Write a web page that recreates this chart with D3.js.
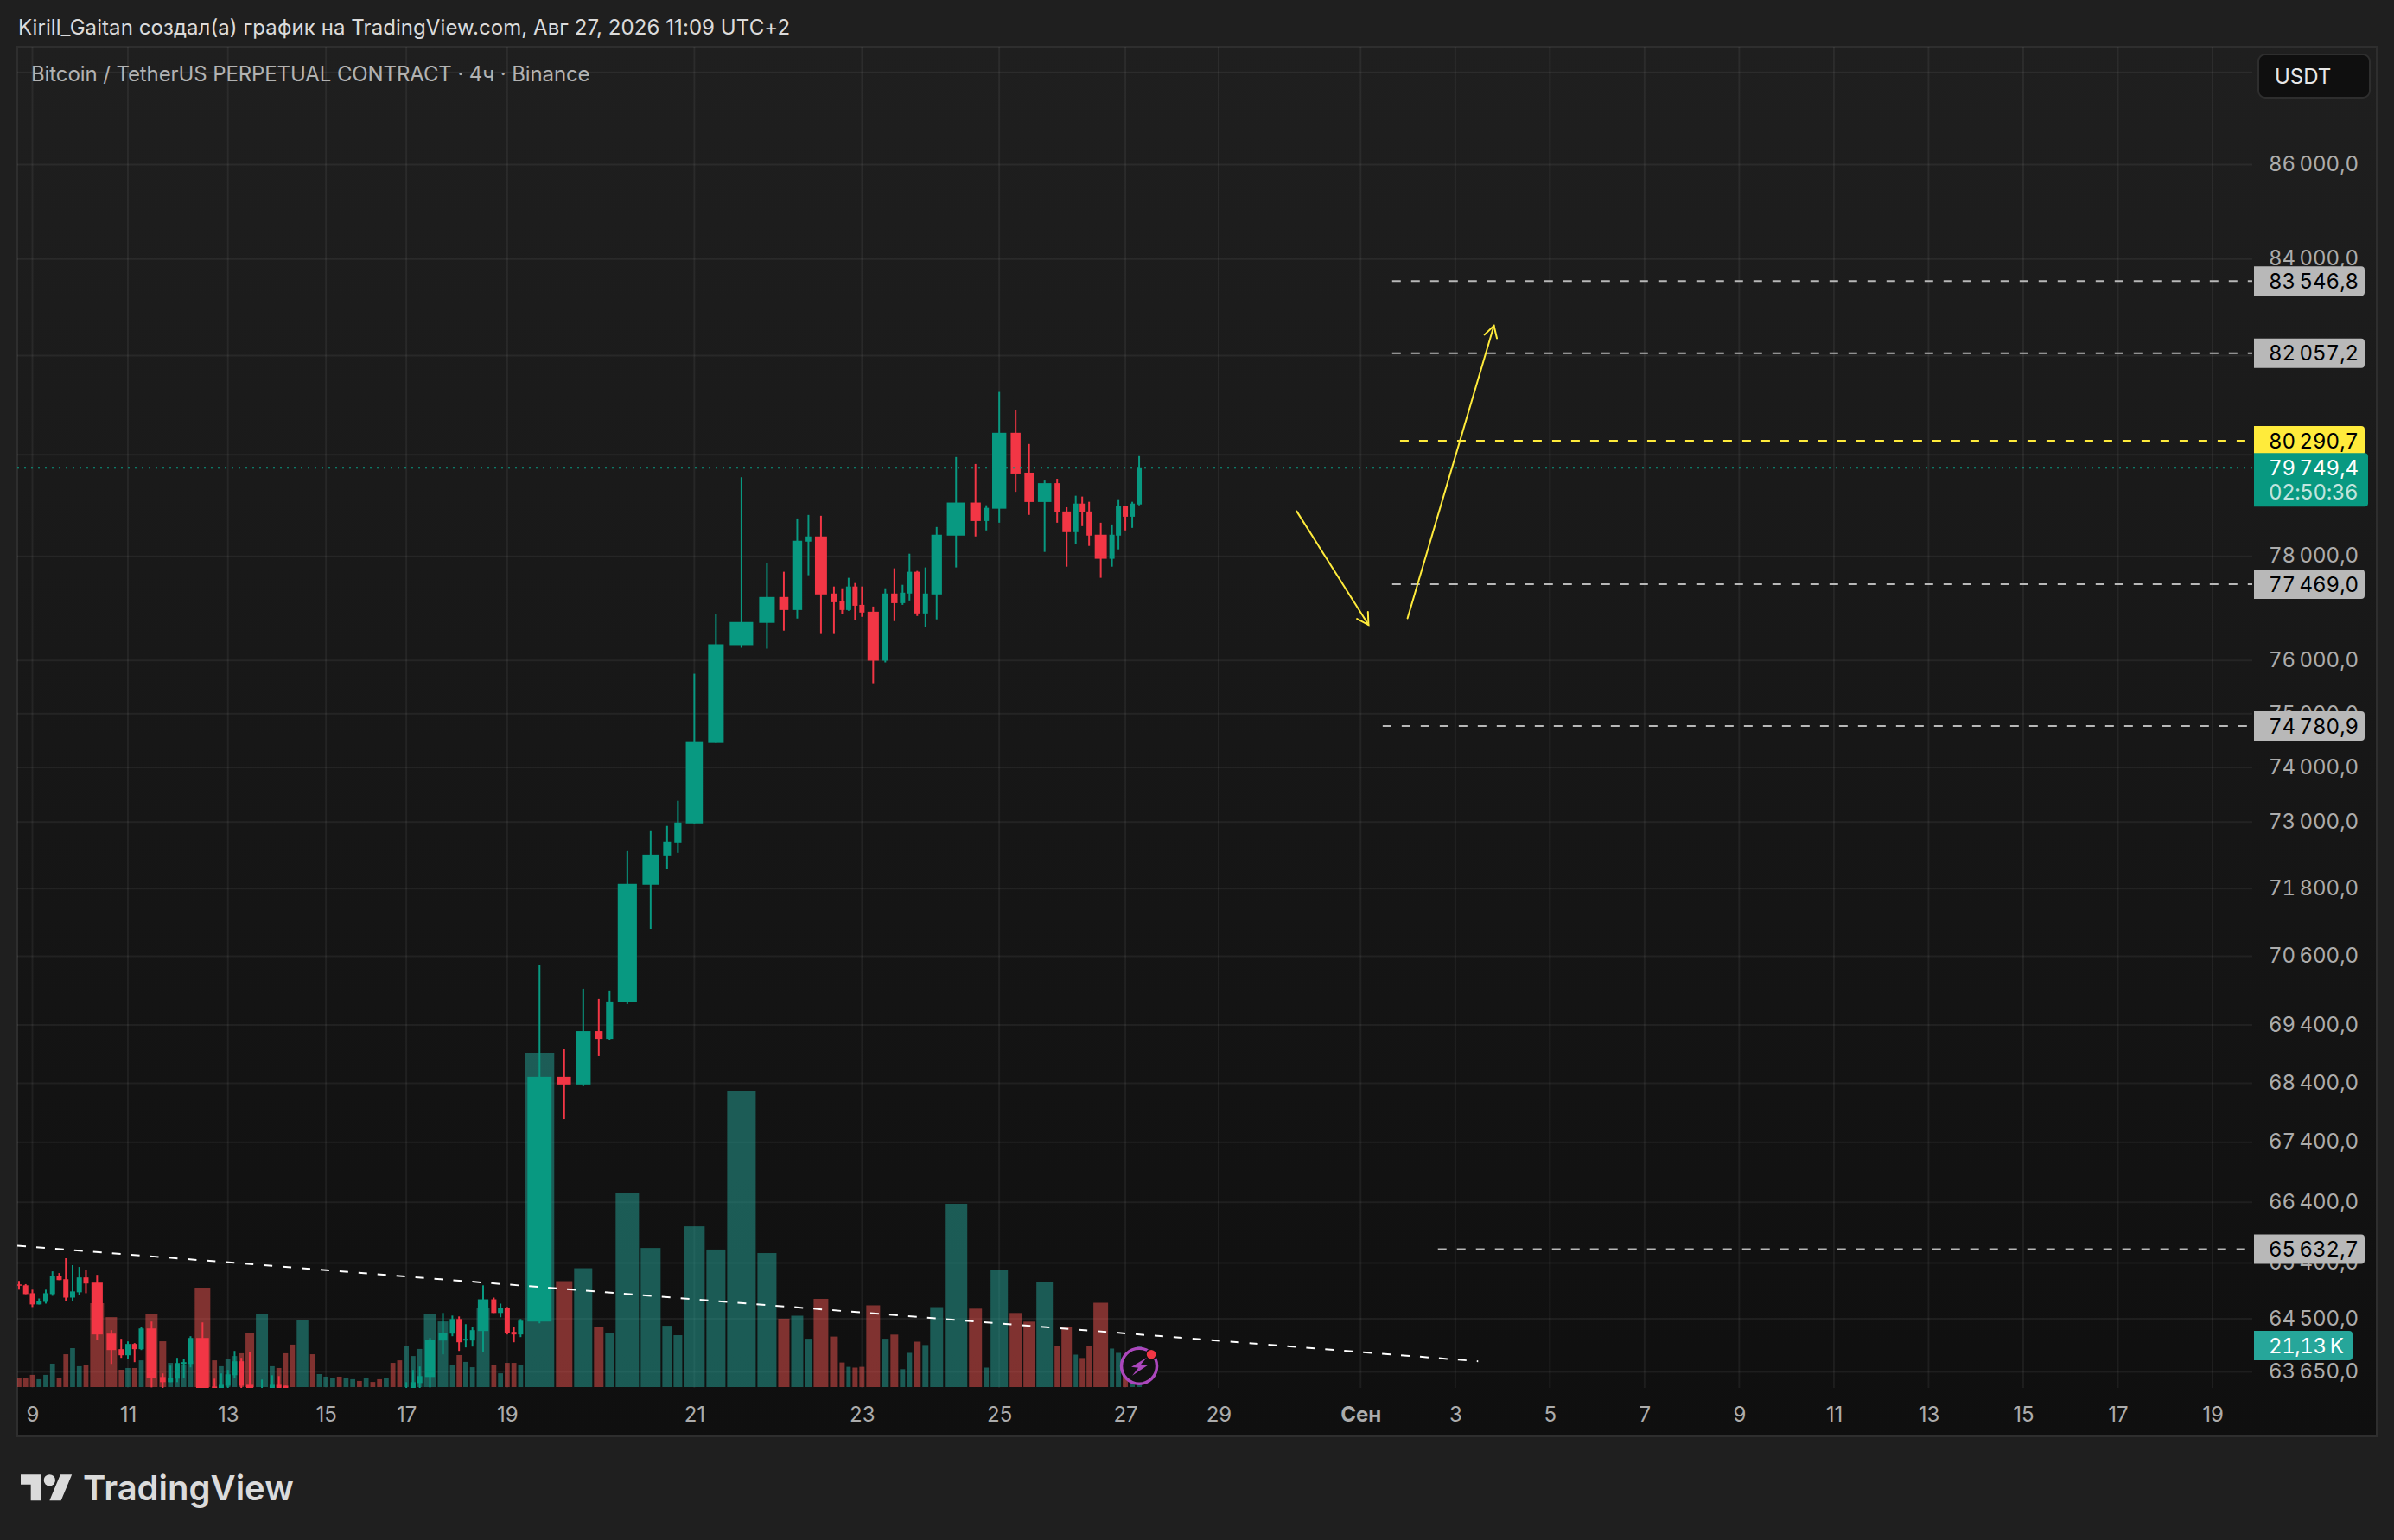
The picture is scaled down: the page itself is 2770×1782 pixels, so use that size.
<!DOCTYPE html>
<html lang="ru">
<head>
<meta charset="utf-8">
<title>BTCUSDT</title>
<script src="https://cdn.jsdelivr.net/npm/d3@7/dist/d3.min.js"></script>
<style>
html,body{margin:0;padding:0;background:#1f1f1f;}
svg{display:block;}
text{font-family:Inter,"Noto Sans",sans-serif;}
.num{font-variant-numeric:tabular-nums;letter-spacing:-0.4px;}
</style>
</head>
<body>
<svg id="c" width="2770" height="1782"></svg>
<script>
// ---------- data ----------
const opens = [65053,65039,64911,64730,64771,64897,65195,65138,64840,64926,
65167,65082,64260,64012,63915,64095,64012,64343,63570,63488,
63543,63777,63777,64191,63419,63300,63432,63598,63819,63446,
63377,63320,63446,63432,63290,63080,63270,63130,63180,63210,
63230,63190,63220,63240,63225,63255,63240,63215,63250,63160,
63377,63330,63474,63570,64150,64260,64495,64150,64150,64302,
64812,64592,64674,64288,64247,64454,68511,68379,69295,69160,
69792,71869,72396,72631,72977,74455,76293,76717,77213,76963,
78286,78387,77280,77129,76963,77415,77062,76930,75997,77280,
77095,77280,77700,76897,77263,78404,79052,78689,78931,80439,
79643,79063,79435,78877,78471,79032,78877,78421,77952,78404,
78980,78774,79015];
const closes = [65034,64897,64730,64785,64911,65195,65124,64840,64940,65167,
65068,64247,63998,63915,64095,64012,64343,63557,63488,63557,
63791,63805,64191,63391,63391,63446,63612,63819,63432,63300,
63391,63446,63300,63300,63080,63270,63130,63180,63210,63230,
63190,63220,63240,63225,63255,63240,63215,63250,63160,63080,
63391,63488,63584,64164,64274,64495,64122,64178,64316,64812,
64592,64674,64274,64247,64467,68511,68379,69295,69160,69807,
71884,72411,72647,72992,74471,76309,76733,77213,76963,78303,
78387,77263,77112,76963,77415,77045,76914,75997,77280,77095,
77297,77700,76897,77280,78421,79052,78689,78948,80439,79626,
79063,79435,78860,78471,79032,78860,78404,77952,78421,78980,
78774,79032,79749.4];
const highs = [65110,65058,64968,64826,64968,65266,65238,65479,65366,65337,
65295,65209,64316,64178,64136,64109,64371,64454,63626,63750,
63874,63860,64219,64440,63543,63626,63681,63984,63874,63971,
63529,63598,63584,63432,63340,63360,63310,63210,63240,63260,
63250,63240,63260,63260,63270,63275,63265,63260,63290,63200,
63488,63681,63736,64191,64592,64550,64536,64412,64371,65039,
64840,64743,64688,64371,64495,70439,68983,70033,69852,69988,
72474,72835,72930,73387,75751,76881,79553,77868,77700,78740,
78809,78792,77415,77381,77583,77482,77415,77029,77381,77767,
77448,78051,77717,77784,78572,79955,79816,78999,81262,80894,
80214,79487,79522,78960,79187,79170,79067,78656,78622,79118,
78980,79067,79973];
const lows = [64968,64897,64688,64730,64743,64869,65124,64785,64785,64883,
64911,64164,63777,63874,63860,63805,63998,63405,63300,63488,
63488,63557,63722,63370,63370,63280,63300,63557,63370,63250,
63377,63280,63250,63300,63020,63010,63090,63100,63150,63180,
63170,63170,63200,63210,63210,63235,63205,63200,63130,63040,
63377,63300,63377,63405,63929,64219,63984,64040,64053,63971,
64592,64523,64247,64122,64205,64426,67789,68349,68865,69145,
69762,71080,72146,72443,72977,74455,76243,76226,76569,76799,
77633,76504,76504,76881,76947,76766,76832,75571,75964,76750,
77062,77146,76848,76635,76783,77784,78387,78505,78656,79263,
78810,78085,78656,77799,78236,78589,78202,77583,77799,78135,
78505,78555,78998];
const volumesK = [4.8,4.4,6.2,4.0,6.2,11.9,4.8,16.7,19.8,10.6,
11.0,42.7,35.6,8.8,9.7,9.7,13.6,37.4,23.3,12.3,
11.0,11.0,13.2,50.6,13.6,10.6,14.1,15.8,17.2,27.3,
37.4,10.6,9.7,17.2,21.6,33.9,16.7,6.6,5.3,4.8,
5.3,4.8,4.0,3.1,4.4,2.6,4.0,4.4,12.3,13.6,
21.1,15.8,19.4,37.4,33.4,11.0,16.3,12.8,10.1,40.5,
11.0,7.0,12.3,12.3,11.4,170.3,53.9,60.5,30.8,27.3,
99.0,70.8,31.2,26.4,81.8,70.0,150.7,68.2,34.8,36.3,
24.6,44.9,25.7,12.5,10.3,9.9,10.3,41.6,24.6,26.7,
9.1,17.4,23.1,21.4,40.7,93.3,39.9,9.9,59.7,37.7,
33.3,53.6,20.9,30.6,16.5,14.8,20.9,42.9,19.6,17.4,
11.0,5.3,21.13];
// relative span of each bar on the stretched time axis (1 = a regular bar)
const barSpans = [1,1,1,1,1,1,1,1,1,1,
1,2.32,1.94,1,1,1,1,2.06,1.29,1,
1,1,1,2.58,1,1,1,1,1,1.55,
2.06,1,1,1,1.03,2.0,1,1,1,1,
1,1,1,1,1,1,1,1,1,1,
1,1,1,2.06,1.81,1,1,1,1,2.19,
1,1,1,1,1,4.65,2.71,2.97,1.68,1.55,
3.74,3.23,1.68,1.55,3.35,3.10,4.52,3.10,1.94,2.06,
1.29,2.45,1.42,1.03,0.90,1.03,1.03,2.32,1.29,1.42,
1.03,1.03,1.29,1.16,2.19,3.61,2.19,1.03,2.84,2.06,
1.94,2.71,1.03,1.81,0.90,1.03,1.03,2.45,0.90,1.03,
1.03,1.03,1.03];

const priceTicks = [86000,84000,82000,80000,78000,76000,75000,74000,73000,71800,70600,69400,68400,67400,66400,65400,64500,63650];
const priceGridOnly = [88000];
const dateTickBars = [2,14,26,38,50,62,74,86,98,110,122,140,152,164,176,188,200,212,224,236,248];
const dateTickLabels = ["9","11","13","15","17","19","21","23","25","27","29","Сен","3","5","7","9","11","13","15","17","19"];

const levelPrices = [83546.8,82057.2,77469.0,74780.9,65632.7];
const levelStartBars = [144,144,144,142.8,149.8];
const targetPrice = 80290.7, targetStartBar = 145;
const lastPrice = 79749.4, countdown = "02:50:36", lastVolumeK = 21.13;
const trendBars = [-0.25,154.9], trendPrices = [65684,63819];
const arrowDownBars = [131.9,141.0], arrowDownPrices = [78881,76679];
const arrowUpBars = [145.95,156.9], arrowUpPrices = [76804,82613];

const headerText = "Kirill_Gaitan создал(а) график на TradingView.com, Авг 27, 2026 11:09 UTC+2";
const titleText = "Bitcoin / TetherUS PERPETUAL CONTRACT · 4ч · Binance";

// ---------- palette ----------
const GREEN="#089981", RED="#F23645", VOL_UP="#26a69a", VOL_DOWN="#ef5350", YELLOW="#FFEB3B", TAG="#b8b8b8", AXIS="#acacac";

// ---------- scales ----------
const pane={l:20,r:2750,t:54,b:1662}, plot={r:2606,b:1606,volBase:1605};
const y = d3.scaleLog().domain([86000,63650]).range([190.5,1587.5]);
const yVol = d3.scaleLinear().domain([0,170.3]).range([plot.volBase,1218]);
const spanX = d3.scaleLinear().domain([0,1]).range([18.1,25.85]);   // cumulative span -> px
const cum = d3.cumsum(barSpans);
const starts = barSpans.map((s,i)=>cum[i]-s);
const centers = barSpans.map((s,i)=>spanX(starts[i]+s/2));
const barW = barSpans.map((s,i)=>spanX(cum[i])-spanX(starts[i])-2);
const bars = d3.range(opens.length);
// bar index -> px, following the stretched bars and then the regular future axis
const x = d3.scaleLinear().domain([...bars,122,248]).range([...centers,1410,2560]);

const fmt = d3.formatLocale({decimal:",",thousands:"\u202f",grouping:[3],currency:["",""]});
const fmtPrice = fmt.format(",.1f"), fmtVol = fmt.format(".2f");
const levelY = p => y(p)+0.5;

const svg = d3.select("#c");
const defs = svg.append("defs");
const grad = defs.append("linearGradient").attr("id","bg").attr("x1",0).attr("x2",0).attr("y1",0).attr("y2",1);
grad.append("stop").attr("offset",0).attr("stop-color","#1f1f1f");
grad.append("stop").attr("offset",1).attr("stop-color","#0f0f0f");
defs.append("clipPath").attr("id","plotClip").append("rect")
  .attr("x",pane.l).attr("y",pane.t).attr("width",plot.r-pane.l).attr("height",plot.b-pane.t);

svg.append("rect").attr("width",2770).attr("height",1782).attr("fill","#1f1f1f");
svg.append("rect").attr("x",pane.l).attr("y",pane.t).attr("width",pane.r-pane.l).attr("height",pane.b-pane.t)
  .attr("fill","url(#bg)").attr("stroke","#2e2e2e").attr("stroke-width",2);

// grid
const grid = svg.append("g").attr("stroke","#ffffff").attr("stroke-opacity",0.06).attr("stroke-width",2);
grid.selectAll("line.h").data([...priceGridOnly,...priceTicks]).join("line").attr("class","h")
  .attr("x1",pane.l).attr("x2",plot.r).attr("y1",d=>y(d)).attr("y2",d=>y(d));
grid.selectAll("line.v").data(dateTickBars).join("line").attr("class","v")
  .attr("y1",pane.t).attr("y2",plot.b).attr("x1",d=>x(d)).attr("x2",d=>x(d));

// price axis labels
const axisR = d3.axisRight(y).tickValues(priceTicks).tickFormat(fmtPrice).tickSize(0).tickPadding(0);
const gR = svg.append("g").attr("transform",`translate(2625,0)`).call(axisR);
gR.select(".domain").remove();
gR.selectAll("text").attr("class","num").attr("fill",AXIS).style("font-size","24px").style("font-family","Inter").attr("dy","0.3em");

// date axis labels
const axisB = d3.axisBottom(x).tickValues(dateTickBars).tickFormat((d,i)=>dateTickLabels[i]).tickSize(0).tickPadding(0);
const gB = svg.append("g").attr("transform",`translate(0,1636)`).call(axisB);
gB.select(".domain").remove();
gB.selectAll("text").attr("y",0).attr("dy","0.36em").attr("fill",AXIS)
  .style("font-size","24px").style("font-family","Inter")
  .style("font-weight",(d,i)=>dateTickLabels[i]==="Сен"?"700":"400");

// plot content
const plotG = svg.append("g").attr("clip-path","url(#plotClip)");
const isUp = i => closes[i]>=opens[i];
plotG.append("g").selectAll("rect").data(bars).join("rect")
  .attr("x",i=>centers[i]-barW[i]/2).attr("width",i=>barW[i])
  .attr("y",i=>yVol(volumesK[i])).attr("height",i=>plot.volBase-yVol(volumesK[i]))
  .attr("fill",i=>isUp(i)?VOL_UP:VOL_DOWN).attr("fill-opacity",0.5);

plotG.append("g").selectAll("line").data(bars).join("line")
  .attr("x1",i=>centers[i]).attr("x2",i=>centers[i])
  .attr("y1",i=>y(highs[i])).attr("y2",i=>y(lows[i]))
  .attr("stroke",i=>isUp(i)?GREEN:RED).attr("stroke-width",2);
const bodyW = i => Math.max(6,barW[i]*0.82);
plotG.append("g").selectAll("rect").data(bars).join("rect")
  .attr("x",i=>centers[i]-bodyW(i)/2).attr("width",bodyW)
  .attr("y",i=>Math.min(y(opens[i]),y(closes[i])))
  .attr("height",i=>Math.max(1.5,Math.abs(y(opens[i])-y(closes[i]))))
  .attr("fill",i=>isUp(i)?GREEN:RED);

// last price dotted line
plotG.append("line").attr("x1",pane.l).attr("x2",plot.r).attr("y1",levelY(lastPrice)).attr("y2",levelY(lastPrice))
  .attr("stroke",GREEN).attr("stroke-width",2).attr("stroke-dasharray","2,6");

// trend line
plotG.append("line").attr("x1",x(trendBars[0])).attr("y1",y(trendPrices[0]))
  .attr("x2",x(trendBars[1])).attr("y2",y(trendPrices[1]))
  .attr("stroke","#ffffff").attr("stroke-width",2).attr("stroke-dasharray","10,12");

// horizontal levels
plotG.selectAll("line.level").data(levelPrices).join("line").attr("class","level")
  .attr("x1",(d,i)=>x(levelStartBars[i])).attr("x2",plot.r).attr("y1",levelY).attr("y2",levelY)
  .attr("stroke",TAG).attr("stroke-width",2).attr("stroke-dasharray","10,12");
plotG.append("line").attr("x1",x(targetStartBar)).attr("x2",plot.r).attr("y1",levelY(targetPrice)).attr("y2",levelY(targetPrice))
  .attr("stroke",YELLOW).attr("stroke-width",2).attr("stroke-dasharray","10,12");

// arrows
function arrow(bs,ps){
  const x1=x(bs[0]),y1=y(ps[0]),x2=x(bs[1]),y2=y(ps[1]);
  const a=Math.atan2(y2-y1,x2-x1), len=15, sp=Math.PI/6;
  const arm=s=>[x2-len*Math.cos(a+s),y2-len*Math.sin(a+s)];
  const g=plotG.append("g").attr("stroke",YELLOW).attr("stroke-width",2).attr("fill","none").attr("stroke-linecap","round");
  g.append("path").attr("d",d3.line()([[x1,y1],[x2,y2]]));
  g.append("path").attr("d",d3.line()([arm(sp),[x2,y2],arm(-sp)]));
}
arrow(arrowDownBars,arrowDownPrices);
arrow(arrowUpBars,arrowUpPrices);

// lightning icon
const ix=x(112), iy=1580.7;
const icon=svg.append("g").attr("transform",`translate(${ix},${iy})`);
icon.append("circle").attr("r",20.5).attr("fill","#111111").attr("stroke","#ab47bc").attr("stroke-width",3.5);
icon.append("path").attr("d","M9,-10 L-9,1 L-1,2 L-8,11 L10,-1 L2,-2 Z").attr("fill","#ab47bc");
icon.append("circle").attr("cx",14).attr("cy",-13.5).attr("r",6).attr("fill",RED).attr("stroke","#111111").attr("stroke-width",1.5);

// price tags
function tagPath(x0,x1,y0,y1,r){
  return `M${x0},${y0}H${x1-r}Q${x1},${y0} ${x1},${y0+r}V${y1-r}Q${x1},${y1} ${x1-r},${y1}H${x0}Z`;
}
const tagX=2608, tagR=2736;
function tag(price,fill,ink){
  const c=levelY(price);
  svg.append("path").attr("d",tagPath(tagX,tagR,c-17,c+17,4)).attr("fill",fill);
  svg.append("text").attr("class","num").attr("x",2625).attr("y",c).attr("dy","0.36em").attr("fill",ink)
    .style("font-size","24px").text(fmtPrice(price));
}
levelPrices.forEach(p=>tag(p,TAG,"#000000"));
tag(targetPrice,YELLOW,"#000000");
// last price tag
const lp=levelY(lastPrice);
svg.append("path").attr("d",tagPath(tagX,2740,lp-17,lp+45,4)).attr("fill",GREEN);
svg.append("text").attr("class","num").attr("x",2625).attr("y",lp).attr("dy","0.36em").attr("fill","#ffffff").style("font-size","24px").text(fmtPrice(lastPrice));
svg.append("text").attr("class","num").attr("x",2625).attr("y",lp+28).attr("dy","0.36em").attr("fill","#ffffff").attr("fill-opacity",0.75).style("font-size","24px").text(countdown);
// volume tag
const vt=yVol(lastVolumeK);
svg.append("path").attr("d",tagPath(tagX,2722,vt-17,vt+17,4)).attr("fill",VOL_UP);
svg.append("text").attr("class","num").attr("x",2625).attr("y",vt).attr("dy","0.36em").attr("fill","#ffffff").style("font-size","24px").text(fmtVol(lastVolumeK)+"\u202fK");

// USDT button
svg.append("rect").attr("x",2613).attr("y",63).attr("width",129).attr("height",50).attr("rx",8)
  .attr("fill","#0f0f0f").attr("stroke","#2e2e2e").attr("stroke-width",2);
svg.append("text").attr("x",2632).attr("y",88).attr("dy","0.36em").attr("fill","#e8e8e8").style("font-size","24px").text("USDT");

// header and title
svg.append("text").attr("x",21).attr("y",31).attr("dy","0.36em").attr("fill","#dbdbdb").style("font-size","24px").style("letter-spacing","0.07px").text(headerText);
svg.append("text").attr("x",36).attr("y",85).attr("dy","0.36em").attr("fill","#b2b2b2").style("font-size","24px").style("letter-spacing","-0.1px").text(titleText);

// logo
const logo=svg.append("g").attr("transform","translate(24,1699.5) scale(1.667)").attr("fill","#dbdbdb");
logo.append("path").attr("d","M14 22H7V11H0V4h14v18zM28 22h-8l7.5-18h8L28 22z");
logo.append("circle").attr("cx",20).attr("cy",8).attr("r",4);
svg.append("text").attr("x",96).attr("y",1736).attr("fill","#dbdbdb").style("font-size","40px").style("font-weight","600").text("TradingView");
</script>
</body>
</html>
